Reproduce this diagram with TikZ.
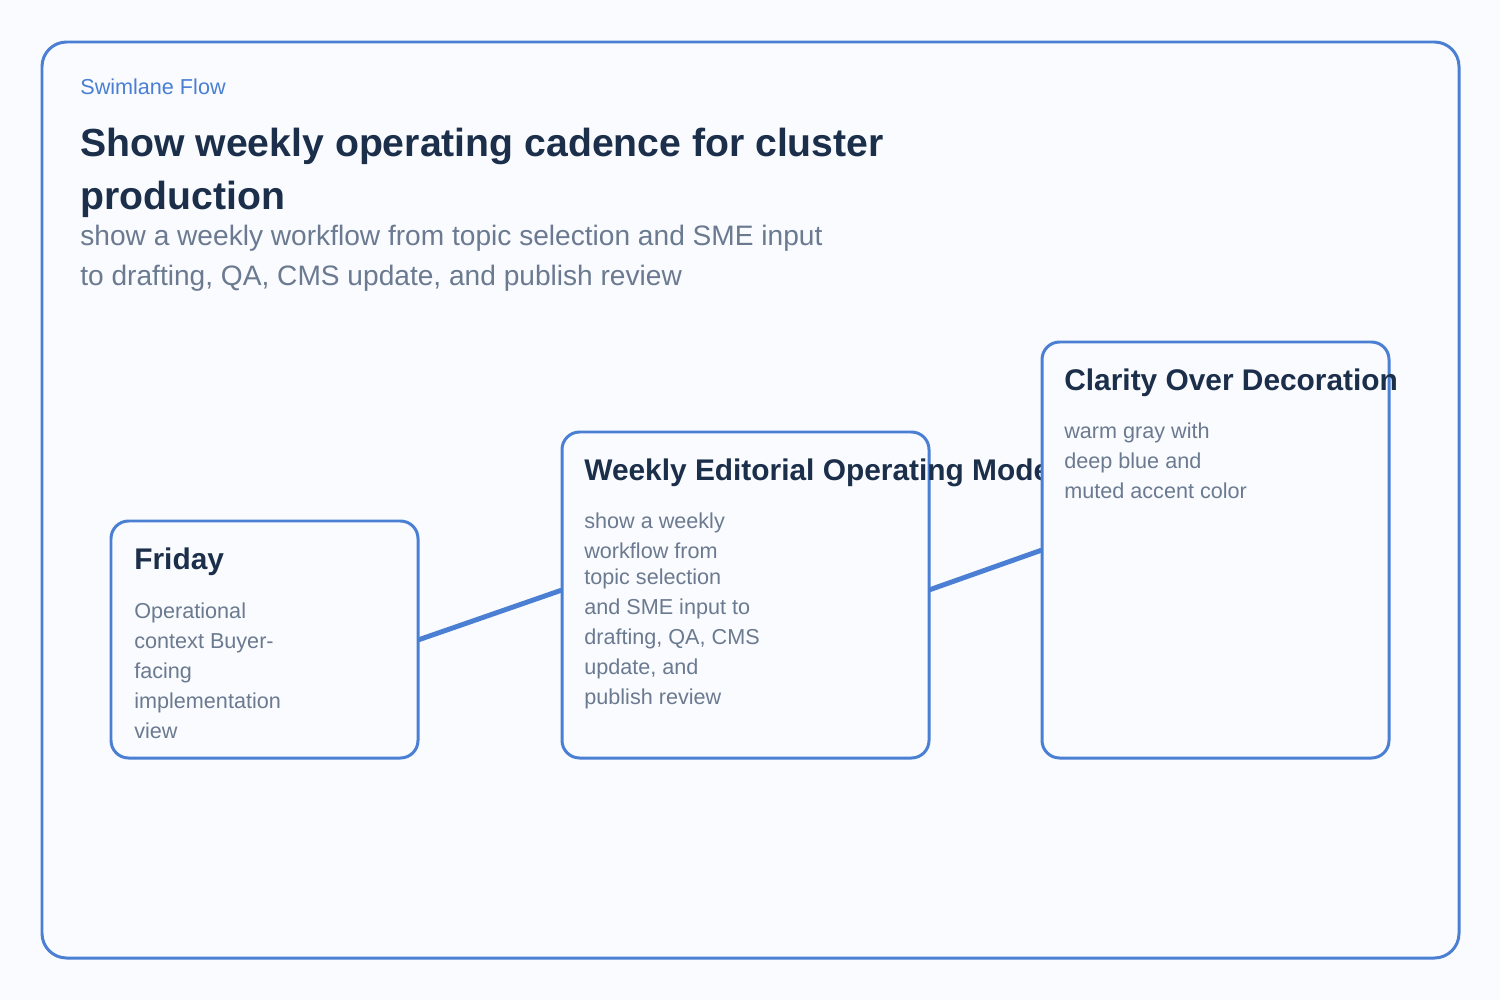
\documentclass[tikz,border=0pt]{standalone}
\usepackage{fontspec}
\setmainfont{Liberation Sans}
\definecolor{frameblue}{HTML}{4A7FD4}
\definecolor{navy}{HTML}{1B2E4A}
\definecolor{slate}{HTML}{6B7A90}
\definecolor{paper}{HTML}{F9FBFE}
\tikzset{
  card/.style = {draw = frameblue, line width = 1.7pt, rounded corners = 10pt, fill = paper},
  link/.style = {draw = frameblue, line width = 2.8pt},
  cardtitle/.style = {anchor = base west, inner sep = 0pt, text = navy, font = \fontsize{17}{20}\selectfont\bfseries},
  cardtext/.style = {anchor = base west, inner sep = 0pt, text = slate, font = \fontsize{12.3}{15}\selectfont}
}
\begin{document}
\begin{tikzpicture}[x = 0.02cm, y = -0.02cm]
    \useasboundingbox[fill = paper] (0,0) rectangle (1500,1000);
    \draw[card, rounded corners = 14pt] (42,42) rectangle (1459,958);
    % heading
    \node[anchor = base west, inner sep = 0pt, text = frameblue, font = \fontsize{12.3}{15}\selectfont] (kicker) at (80,95) {Swimlane Flow};
    \node[anchor = base west, inner sep = 0pt, text = navy, font = \fontsize{22.3}{26}\selectfont\bfseries] (title1) at (80,157) {Show weekly operating cadence for cluster};
    \node[anchor = base west, inner sep = 0pt, text = navy, font = \fontsize{22.3}{26}\selectfont\bfseries] (title2) at (80,210) {production};
    \node[anchor = base west, inner sep = 0pt, text = slate, font = \fontsize{16}{19}\selectfont] (sub1) at (80,245) {show a weekly workflow from topic selection and SME input};
    \node[anchor = base west, inner sep = 0pt, text = slate, font = \fontsize{16}{19}\selectfont] (sub2) at (80,285) {to drafting, QA, CMS update, and publish review};
    % cards
    \draw[card] (111,521) rectangle (418,758);
    \draw[card] (562,432) rectangle (929,758);
    \node[cardtitle] (wk) at (584,480) {Weekly Editorial Operating Model};
    \draw[card] (1042,342) rectangle (1389,758);
    \coordinate (fri-e) at (418,640);
    \coordinate (wk-w) at (562,590);
    \coordinate (wk-e) at (929,590);
    \coordinate (cl-w) at (1042,550);
    \draw[link] (fri-e) -- (wk-w);
    \draw[link] (wk-e) -- (cl-w);
    \node[cardtitle] (fri) at (134,569) {Friday};
    \foreach \t [count = \i] in {Operational, context Buyer-, facing, implementation, view}
        \node[cardtext] (fri-\i) at (134,618+30*\i-30) {\t};
    \foreach \t/\yy [count = \i] in {show a weekly/528, workflow from/558, topic selection/584, and SME input to/614, {drafting, QA, CMS}/644, {update, and}/674, publish review/704}
        \node[cardtext] (wk-\i) at (584,\yy) {\t};
    \node[cardtitle] (cl) at (1064,390) {Clarity Over Decoration};
    \foreach \t [count = \i] in {warm gray with, deep blue and, muted accent color}
        \node[cardtext] (cl-\i) at (1064,438+30*\i-30) {\t};
\end{tikzpicture}
\end{document}
